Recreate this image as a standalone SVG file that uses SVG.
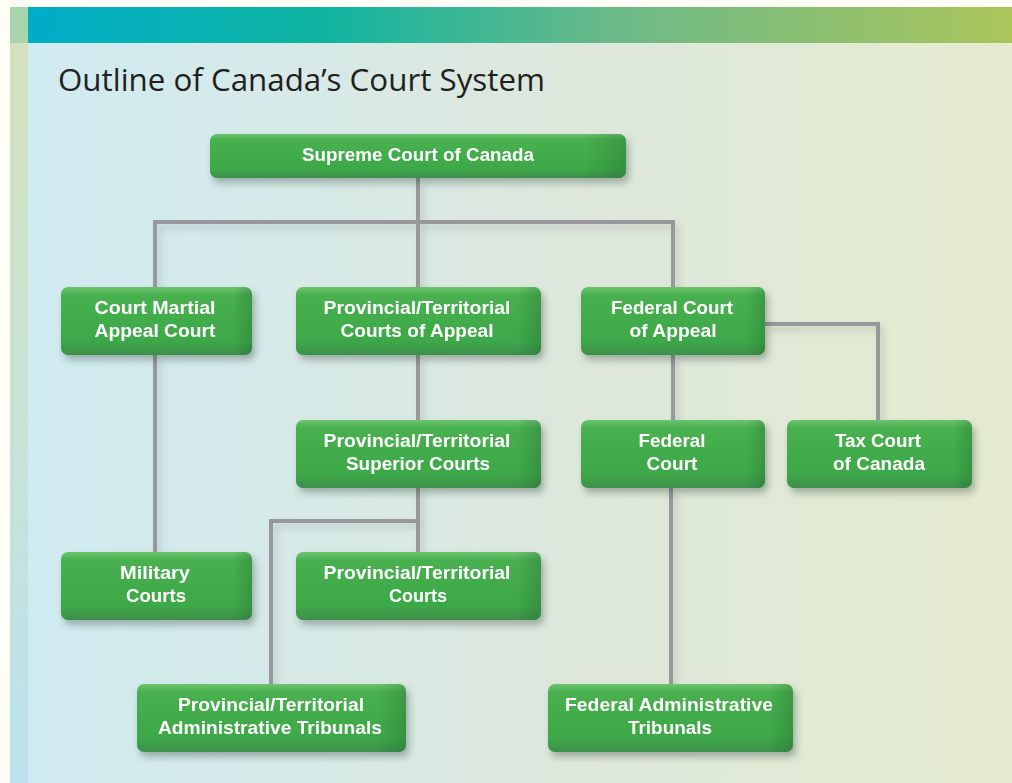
<svg xmlns="http://www.w3.org/2000/svg" width="1012" height="783" viewBox="0 0 1012 783">
<defs>
<linearGradient id="bar" x1="0" y1="0" x2="1" y2="0">
<stop offset="0" stop-color="#00ADC8"/><stop offset="0.3" stop-color="#0FB4A0"/><stop offset="0.6" stop-color="#6CBA88"/><stop offset="1" stop-color="#ABC55A"/>
</linearGradient>
<linearGradient id="panel" x1="0" y1="0" x2="1" y2="0">
<stop offset="0" stop-color="#D0EBF2"/><stop offset="0.55" stop-color="#DDE8DC"/><stop offset="1" stop-color="#E4EBCF"/>
</linearGradient>
<linearGradient id="strip" x1="0" y1="0" x2="0" y2="1">
<stop offset="0" stop-color="#D3E2BC"/><stop offset="1" stop-color="#BCE2EE"/>
</linearGradient>
<linearGradient id="box" x1="0" y1="0" x2="0" y2="1">
<stop offset="0" stop-color="#6CC46E"/><stop offset="0.12" stop-color="#48B04F"/><stop offset="0.8" stop-color="#3DA848"/><stop offset="1" stop-color="#3C8F4A"/>
</linearGradient>
<linearGradient id="edge" x1="0" y1="0" x2="1" y2="0">
<stop offset="0" stop-color="#000" stop-opacity="0"/><stop offset="0.9" stop-color="#1E5A2A" stop-opacity="0"/><stop offset="1" stop-color="#1E5A2A" stop-opacity="0.28"/>
</linearGradient>
<filter id="sh" x="-10%" y="-20%" width="125%" height="160%">
<feDropShadow dx="3" dy="5" stdDeviation="3.5" flood-color="#2A3A30" flood-opacity="0.35"/>
</filter>
<filter id="lsh" x="-10%" y="-10%" width="130%" height="130%">
<feDropShadow dx="4" dy="5" stdDeviation="3" flood-color="#5A6A60" flood-opacity="0.25"/>
</filter>
<style>
.b{fill:url(#box)}
.e{fill:url(#edge)}
.t{font-family:"Liberation Sans",Arial,sans-serif;font-weight:bold;font-size:18px;fill:#FFFFFF;text-anchor:middle}
.c{stroke:#97979C;stroke-width:4;fill:none}
</style>
</defs>
<rect x="0" y="0" width="1012" height="783" fill="#FEFEF6"/>
<rect x="10" y="7" width="18" height="36" fill="#A9D5AE"/>
<rect x="28" y="7" width="984" height="36" fill="url(#bar)"/>
<rect x="10" y="43" width="18" height="740" fill="url(#strip)"/>
<rect x="28" y="43" width="984" height="740" fill="url(#panel)"/>
<text x="58" y="91" font-family="Open Sans, Liberation Sans, sans-serif" font-size="31" fill="#231F20" textLength="487" lengthAdjust="spacingAndGlyphs">Outline of Canada’s Court System</text>

<g id="connectors" filter="url(#lsh)">
<path class="c" d="M418 178V287"/>
<path class="c" d="M155 287V222H673V287"/>
<path class="c" d="M155 355V552"/>
<path class="c" d="M418 355V420"/>
<path class="c" d="M418 488V552"/>
<path class="c" d="M418 521H271V684"/>
<path class="c" d="M765 324H878V420"/>
<path class="c" d="M673 355V420"/>
<path class="c" d="M671 488V684"/>
</g>

<g id="supreme" filter="url(#sh)">
<rect class="b" x="210" y="134" width="416" height="44" rx="7"/>
<rect class="e" x="210" y="134" width="416" height="44" rx="7" style="fill:url(#edge)"/>
<text class="t" x="418" y="161" textLength="232" lengthAdjust="spacingAndGlyphs">Supreme Court of Canada</text>
</g>

<g id="court-martial-appeal" filter="url(#sh)">
<rect class="b" x="61" y="287" width="191" height="68" rx="7"/>
<rect class="e" x="61" y="287" width="191" height="68" rx="7"/>
<text class="t" x="155" y="314" textLength="121" lengthAdjust="spacingAndGlyphs">Court Martial</text>
<text class="t" x="155" y="337" textLength="121" lengthAdjust="spacingAndGlyphs">Appeal Court</text>
</g>

<g id="pt-courts-of-appeal" filter="url(#sh)">
<rect class="b" x="296" y="287" width="245" height="68" rx="7"/>
<rect class="e" x="296" y="287" width="245" height="68" rx="7"/>
<text class="t" x="417" y="314" textLength="187" lengthAdjust="spacingAndGlyphs">Provincial/Territorial</text>
<text class="t" x="417" y="337" textLength="153" lengthAdjust="spacingAndGlyphs">Courts of Appeal</text>
</g>

<g id="federal-court-of-appeal" filter="url(#sh)">
<rect class="b" x="581" y="287" width="184" height="68" rx="7"/>
<rect class="e" x="581" y="287" width="184" height="68" rx="7"/>
<text class="t" x="672" y="314" textLength="122" lengthAdjust="spacingAndGlyphs">Federal Court</text>
<text class="t" x="673" y="337" textLength="87" lengthAdjust="spacingAndGlyphs">of Appeal</text>
</g>

<g id="pt-superior-courts" filter="url(#sh)">
<rect class="b" x="296" y="420" width="245" height="68" rx="7"/>
<rect class="e" x="296" y="420" width="245" height="68" rx="7"/>
<text class="t" x="417" y="447" textLength="187" lengthAdjust="spacingAndGlyphs">Provincial/Territorial</text>
<text class="t" x="418" y="470" textLength="144" lengthAdjust="spacingAndGlyphs">Superior Courts</text>
</g>

<g id="federal-court" filter="url(#sh)">
<rect class="b" x="581" y="420" width="184" height="68" rx="7"/>
<rect class="e" x="581" y="420" width="184" height="68" rx="7"/>
<text class="t" x="672" y="447" textLength="67" lengthAdjust="spacingAndGlyphs">Federal</text>
<text class="t" x="672" y="470" textLength="51" lengthAdjust="spacingAndGlyphs">Court</text>
</g>

<g id="tax-court" filter="url(#sh)">
<rect class="b" x="787" y="420" width="185" height="68" rx="7"/>
<rect class="e" x="787" y="420" width="185" height="68" rx="7"/>
<text class="t" x="878" y="447" textLength="86" lengthAdjust="spacingAndGlyphs">Tax Court</text>
<text class="t" x="879" y="470" textLength="92" lengthAdjust="spacingAndGlyphs">of Canada</text>
</g>

<g id="military-courts" filter="url(#sh)">
<rect class="b" x="61" y="552" width="191" height="68" rx="7"/>
<rect class="e" x="61" y="552" width="191" height="68" rx="7"/>
<text class="t" x="155" y="579" textLength="70" lengthAdjust="spacingAndGlyphs">Military</text>
<text class="t" x="156" y="602" textLength="60" lengthAdjust="spacingAndGlyphs">Courts</text>
</g>

<g id="pt-courts" filter="url(#sh)">
<rect class="b" x="296" y="552" width="245" height="68" rx="7"/>
<rect class="e" x="296" y="552" width="245" height="68" rx="7"/>
<text class="t" x="417" y="579" textLength="187" lengthAdjust="spacingAndGlyphs">Provincial/Territorial</text>
<text class="t" x="418" y="602" textLength="58" lengthAdjust="spacingAndGlyphs">Courts</text>
</g>

<g id="pt-admin-tribunals" filter="url(#sh)">
<rect class="b" x="137" y="684" width="269" height="68" rx="7"/>
<rect class="e" x="137" y="684" width="269" height="68" rx="7"/>
<text class="t" x="271" y="711" textLength="186" lengthAdjust="spacingAndGlyphs">Provincial/Territorial</text>
<text class="t" x="270" y="734" textLength="224" lengthAdjust="spacingAndGlyphs">Administrative Tribunals</text>
</g>

<g id="federal-admin-tribunals" filter="url(#sh)">
<rect class="b" x="548" y="684" width="245" height="68" rx="7"/>
<rect class="e" x="548" y="684" width="245" height="68" rx="7"/>
<text class="t" x="669" y="711" textLength="208" lengthAdjust="spacingAndGlyphs">Federal Administrative</text>
<text class="t" x="670" y="734" textLength="84" lengthAdjust="spacingAndGlyphs">Tribunals</text>
</g>
</svg>
